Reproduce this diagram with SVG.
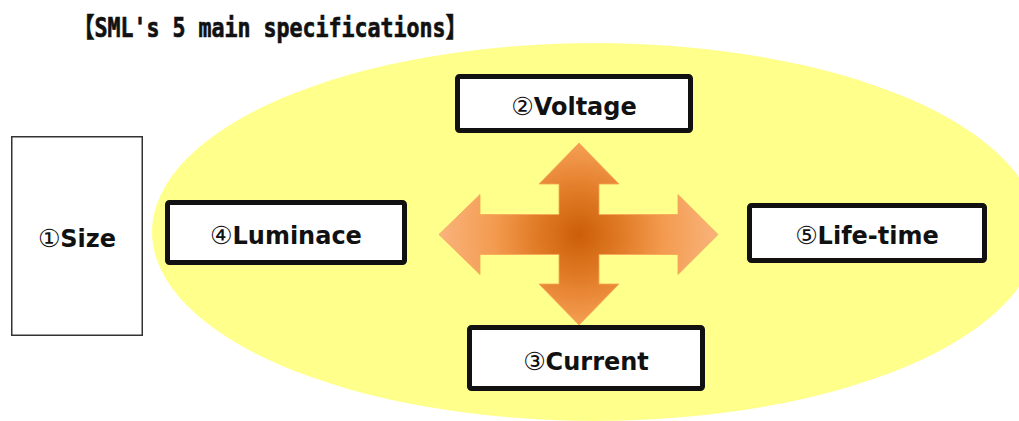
<svg xmlns="http://www.w3.org/2000/svg" width="1019" height="421" viewBox="0 0 1019 421">
  <style>
    .box { fill: #ffffff; stroke: #111111; stroke-width: 5; }
    .thin { fill: #ffffff; stroke: #333333; stroke-width: 1.5; }
    .lbl { font-family: "DejaVu Sans", "Noto Sans CJK JP", sans-serif; font-weight: bold; font-size: 24px; fill: #111111; text-anchor: middle; }
    .num { font-weight: normal; font-size: 25px; }
    .title { font-family: "DejaVu Sans Mono", "Noto Sans CJK JP", monospace; font-weight: bold; font-size: 27px; fill: #111111; stroke: #111111; stroke-width: 0.7; }
  </style>
  <defs>
    <radialGradient id="org" gradientUnits="userSpaceOnUse" cx="579" cy="234.5" r="140">
      <stop offset="0" stop-color="#cc5e08"/>
      <stop offset="0.3" stop-color="#e07a25"/>
      <stop offset="0.6" stop-color="#f39a4e"/>
      <stop offset="1" stop-color="#f9b47d"/>
    </radialGradient>
  </defs>
  <rect width="1019" height="421" fill="#ffffff"/>
  <ellipse id="field" cx="595" cy="232" rx="443" ry="189" fill="#ffff8c"/>
  <text id="title" class="title" x="73" y="37" textLength="394" lengthAdjust="spacingAndGlyphs">【SML's 5 main specifications】</text>
  <g id="connectors">
    <polygon fill="url(#org)" stroke="#f7a458" stroke-width="0.8" points="579,143 619,184 599,184 599,214.5 678,214.5 678,194.5 718,234.5 678,274.5 678,254.5 599,254.5 599,284 619,284 579,325 539,284 559,284 559,254.5 480,254.5 480,274.5 439,234.5 480,194.5 480,214.5 559,214.5 559,184 539,184"/>
  </g>
  <g id="node-size">
    <rect class="thin" x="11.75" y="136.75" width="130.5" height="198.5"/>
    <text class="lbl" x="77" y="247"><tspan class="num">①</tspan>Size</text>
  </g>
  <g id="node-voltage">
    <rect class="box" x="457.5" y="76.5" width="233" height="54" rx="2"/>
    <text class="lbl" x="574" y="115"><tspan class="num">②</tspan>Voltage</text>
  </g>
  <g id="node-current">
    <rect class="box" x="469.5" y="327.5" width="233" height="61" rx="2"/>
    <text class="lbl" x="586" y="370"><tspan class="num">③</tspan>Current</text>
  </g>
  <g id="node-luminace">
    <rect class="box" x="167.5" y="202.5" width="237" height="60" rx="2"/>
    <text class="lbl" x="286" y="244"><tspan class="num">④</tspan>Luminace</text>
  </g>
  <g id="node-lifetime">
    <rect class="box" x="749.5" y="205.5" width="235" height="55" rx="2"/>
    <text class="lbl" x="867" y="244"><tspan class="num">⑤</tspan>Life-time</text>
  </g>
</svg>
